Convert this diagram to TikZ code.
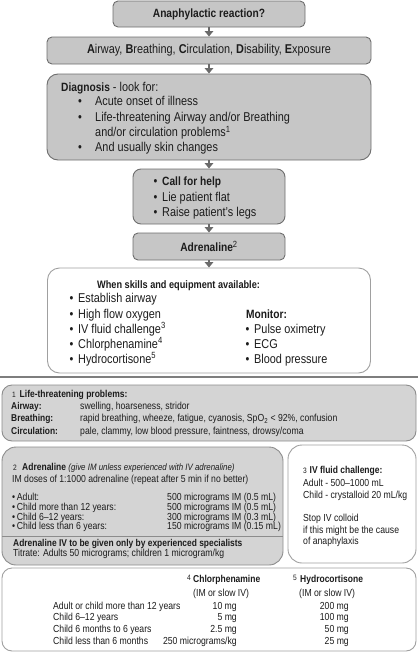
\documentclass[tikz,border=0pt]{standalone}
\usepackage{fontspec}
\setmainfont{Liberation Sans}[FakeStretch=0.85]
\usetikzlibrary{arrows.meta}
\definecolor{boxgray}{HTML}{C6C6C6}
\definecolor{boxlight}{HTML}{D4D4D4}
\definecolor{edgegray}{HTML}{6E6E6E}
\definecolor{edgelight}{HTML}{8C8C8C}
\definecolor{softedge}{HTML}{A0A0A0}
\definecolor{arrowgray}{HTML}{6A6A6A}
\definecolor{sepgray}{HTML}{7E7E7E}
\definecolor{ink}{HTML}{1C1C1C}
\newcommand\fbig{\fontsize{12.8}{15}\selectfont}
\newcommand\fbigb{\fontsize{12}{14}\selectfont\bfseries}
\newcommand\fhead{\fontsize{10.8}{13}\selectfont}
\newcommand\fmid{\fontsize{10}{12}\selectfont}
\newcommand\fsmall{\fontsize{10.2}{12}\selectfont}
\newcommand\fsmallb{\fontsize{9.9}{12}\selectfont\bfseries}
\newcommand\fital{\fontsize{9.3}{11}\selectfont\itshape}
\newcommand\fnum{\fontsize{7.8}{9}\selectfont}
\begin{document}
\begin{tikzpicture}[x=1pt,y=-1pt,
  box/.style={draw=edgegray, line width=0.9pt, inner sep=0pt, text=ink},
  gbox/.style={box, fill=boxgray},
  lbox/.style={box, fill=boxlight, draw=edgelight},
  wbox/.style={box, fill=white, draw=softedge},
  txt/.style={anchor=base west, inner sep=0pt, text=ink},
  rtxt/.style={anchor=base east, inner sep=0pt, text=ink},
  arr/.style={draw=arrowgray, line width=2.6pt, -{Triangle[width=8.5pt,length=5.5pt]}},
]
\useasboundingbox (0,0) rectangle (418,653);

% ---------- flow chart ----------
\node[gbox, rounded corners=5pt, minimum width=192pt, minimum height=26pt, font=\fbigb] (b1) at (209,14) {Anaphylactic reaction?};
\node[gbox, rounded corners=5pt, minimum width=324pt, minimum height=27pt, font=\fbig] (b2) at (209,50.5) {\textbf{A}irway, \textbf{B}reathing, \textbf{C}irculation, \textbf{D}isability, \textbf{E}xposure};
\node[gbox, rounded corners=11pt, minimum width=324pt, minimum height=86pt] (b3) at (209,117) {};
\node[gbox, rounded corners=8pt, minimum width=152pt, minimum height=55pt] (b4) at (209,196.5) {};
\node[gbox, rounded corners=5pt, minimum width=152pt, minimum height=27pt] (b5) at (209,246.5) {{\fbigb Adrenaline}{\fbig\textsuperscript{2}}};
\node[wbox, rounded corners=12pt, minimum width=323pt, minimum height=105pt] (b6) at (209,320.5) {};

\draw[arr] (b1) -- (b2);
\draw[arr] (b2) -- (b3);
\draw[arr] (b3) -- (b4);
\draw[arr] (b4) -- (b5);
\draw[arr] (b5) -- (b6);

% diagnosis
\node[txt, font=\fbig] (d0) at (61,91.5) {{\fbigb Diagnosis} - look for:};
\node[txt, font=\fbig] (d1b) at (78,105.5) {•};
\node[txt, font=\fbig] (d1) at (95,105.5) {Acute onset of illness};
\node[txt, font=\fbig] (d2b) at (78,121.3) {•};
\node[txt, font=\fbig] (d2) at (95,121.3) {Life-threatening Airway and/or Breathing};
\node[txt, font=\fbig] (d3) at (95,136.8) {and/or circulation problems\textsuperscript{1}};
\node[txt, font=\fbig] (d4b) at (78,151.6) {•};
\node[txt, font=\fbig] (d4) at (95,151.6) {And usually skin changes};

% call for help
\node[txt, font=\fbig] (c1b) at (153.5,185.3) {•};
\node[txt, font=\fbigb] (c1) at (162,185.3) {Call for help};
\node[txt, font=\fbig] (c2b) at (153.5,201) {•};
\node[txt, font=\fbig] (c2) at (162,201) {Lie patient flat};
\node[txt, font=\fbig] (c3b) at (153.5,216) {•};
\node[txt, font=\fbig] (c3) at (162,216) {Raise patient’s legs};

% skills
\node[txt, font=\fhead\bfseries] (s0) at (97,288) {When skills and equipment available:};
\node[txt, font=\fbig] (s1b) at (69.5,302.3) {•};
\node[txt, font=\fbig] (s1) at (78,302.3) {Establish airway};
\node[txt, font=\fbig] (s2b) at (69.5,318) {•};
\node[txt, font=\fbig] (s2) at (78,318) {High flow oxygen};
\node[txt, font=\fbig] (s3b) at (69.5,333.3) {•};
\node[txt, font=\fbig] (s3) at (78,333.3) {IV fluid challenge\textsuperscript{3}};
\node[txt, font=\fbig] (s4b) at (69.5,348.3) {•};
\node[txt, font=\fbig] (s4) at (78,348.3) {Chlorphenamine\textsuperscript{4}};
\node[txt, font=\fbig] (s5b) at (69.5,363.3) {•};
\node[txt, font=\fbig] (s5) at (78,363.3) {Hydrocortisone\textsuperscript{5}};
\node[txt, font=\fbigb] (m0) at (246,318) {Monitor:};
\node[txt, font=\fbig] (m1b) at (245.5,333.3) {•};
\node[txt, font=\fbig] (m1) at (254,333.3) {Pulse oximetry};
\node[txt, font=\fbig] (m2b) at (245.5,348.3) {•};
\node[txt, font=\fbig] (m2) at (254,348.3) {ECG};
\node[txt, font=\fbig] (m3b) at (245.5,363.3) {•};
\node[txt, font=\fbig] (m3) at (254,363.3) {Blood pressure};

% ---------- separator ----------
\draw[draw=sepgray, line width=2.2pt] (0,377) -- (418,377);

% ---------- notes ----------
\node[lbox, rounded corners=10pt, minimum width=414pt, minimum height=56pt] (p1) at (209,413) {};
\node[lbox, rounded corners=14pt, minimum width=281pt, minimum height=118pt] (p2) at (142.5,506) {};
\draw[draw=edgelight, line width=0.9pt] (2,536) -- (283,536);
\node[wbox, rounded corners=14pt, minimum width=128pt, minimum height=118pt] (p3) at (352,504) {};
\node[wbox, rounded corners=10pt, minimum width=414pt, minimum height=83pt] (p4) at (209,609.5) {};

% note 1
\node[txt, font=\fnum] (n1n) at (12,397.6) {1};
\node[txt, font=\fmid\bfseries] (n1) at (19.5,397.6) {Life-threatening problems:};
\node[txt, font=\fsmallb] (n1a) at (11,409.3) {Airway:};
\node[txt, font=\fsmall] (n1av) at (80,409.3) {swelling, hoarseness, stridor};
\node[txt, font=\fsmallb] (n1b) at (11,421.6) {Breathing:};
\node[txt, font=\fsmall] (n1bv) at (80,421.6) {rapid breathing, wheeze, fatigue, cyanosis, SpO\textsubscript{2} < 92\%, confusion};
\node[txt, font=\fsmallb] (n1c) at (11,434) {Circulation:};
\node[txt, font=\fsmall] (n1cv) at (80,434) {pale, clammy, low blood pressure, faintness, drowsy/coma};

% note 2
\node[txt, font=\fnum] (n2n) at (13,470.6) {2};
\node[txt, font=\fmid] (n2) at (22,470.6) {\textbf{Adrenaline} {\fital (give IM unless experienced with IV adrenaline)}};
\node[txt, font=\fsmall] (n2a) at (12,482) {IM doses of 1:1000 adrenaline (repeat after 5 min if no better)};
\node[txt, font=\fsmall] (n2r1) at (12,500.5) {•\,Adult:};
\node[txt, font=\fsmall] (n2v1) at (167,500.5) {500 micrograms IM (0.5 mL)};
\node[txt, font=\fsmall] (n2r2) at (12,510.5) {•\,Child more than 12 years:};
\node[txt, font=\fsmall] (n2v2) at (167,510.5) {500 micrograms IM (0.5 mL)};
\node[txt, font=\fsmall] (n2r3) at (12,520) {•\,Child 6–12 years:};
\node[txt, font=\fsmall] (n2v3) at (167,520) {300 micrograms IM (0.3 mL)};
\node[txt, font=\fsmall] (n2r4) at (12,529.5) {•\,Child less than 6 years:};
\node[txt, font=\fsmall] (n2v4) at (167,529.5) {150 micrograms IM (0.15 mL)};
\node[txt, font=\fsmallb] (n2b) at (13,546.5) {Adrenaline IV to be given only by experienced specialists};
\node[txt, font=\fsmall] (n2c) at (13,556) {Titrate: Adults 50 micrograms; children 1 microgram/kg};

% note 3
\node[txt, font=\fnum] (n3n) at (303,473.6) {3};
\node[txt, font=\fmid\bfseries] (n3) at (309.5,473.6) {IV fluid challenge:};
\node[txt, font=\fsmall] (n3a) at (303,486.3) {Adult - 500–1000 mL};
\node[txt, font=\fsmall] (n3b) at (303,498.3) {Child - crystalloid 20 mL/kg};
\node[txt, font=\fsmall] (n3c) at (303,521.3) {Stop IV colloid};
\node[txt, font=\fsmall] (n3d) at (303,533.3) {if this might be the cause};
\node[txt, font=\fsmall] (n3e) at (303,544.3) {of anaphylaxis};

% notes 4 and 5
\node[txt, font=\fnum] (n4n) at (187,580.6) {4};
\node[txt, font=\fmid\bfseries] (n4) at (193,582.6) {Chlorphenamine};
\node[txt, font=\fsmall] (n4s) at (193,596.3) {(IM or slow IV)};
\node[txt, font=\fnum] (n5n) at (293,580.6) {5};
\node[txt, font=\fmid\bfseries] (n5) at (300,582.6) {Hydrocortisone};
\node[txt, font=\fsmall] (n5s) at (299,596.3) {(IM or slow IV)};

\node[txt, font=\fsmall] (r1) at (53,609.3) {Adult or child more than 12 years};
\node[txt, font=\fsmall] (r2) at (53,620.8) {Child 6–12 years};
\node[txt, font=\fsmall] (r3) at (53,632.3) {Child 6 months to 6 years};
\node[txt, font=\fsmall] (r4) at (53,644.3) {Child less than 6 months};
\node[rtxt, font=\fsmall] (r1c) at (237,609.3) {10 mg};
\node[rtxt, font=\fsmall] (r2c) at (237,620.8) {5 mg};
\node[rtxt, font=\fsmall] (r3c) at (237,632.3) {2.5 mg};
\node[rtxt, font=\fsmall] (r4c) at (237,644.3) {250 micrograms/kg};
\node[rtxt, font=\fsmall] (r1h) at (349,609.3) {200 mg};
\node[rtxt, font=\fsmall] (r2h) at (349,620.8) {100 mg};
\node[rtxt, font=\fsmall] (r3h) at (349,632.3) {50 mg};
\node[rtxt, font=\fsmall] (r4h) at (349,644.3) {25 mg};
\end{tikzpicture}
\end{document}
